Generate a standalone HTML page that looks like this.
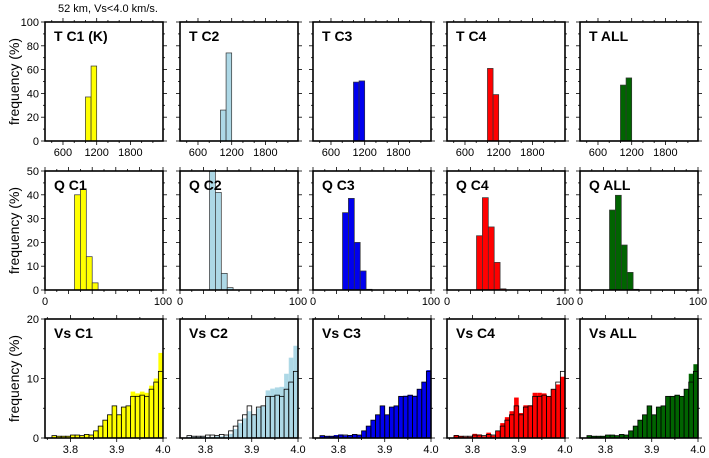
<!DOCTYPE html>
<html><head><meta charset="utf-8"><style>
body{margin:0;background:#fff;}
svg{display:block;font-family:"Liberation Sans",sans-serif;}
</style></head><body>
<svg id="c" width="709" height="458" xmlns="http://www.w3.org/2000/svg">
<text x="58" y="12" font-size="11">52 km, Vs&lt;4.0 km/s.</text>
</svg>
<script>
const clusters=["C1","C2","C3","C4","ALL"];
const colors=["#ffff00","#add8e6","#0000ee","#ff0000","#006400"];
const tBinStart=[1000,1100];
const tC1=[37,63],tC2=[26,74],tC3=[49.5,50.5],tC4=[61,39],tALL=[47,53];
const qBinStart=[25,30,35,40,45];
const qC1=[40,42.5,14,3,0],qC2=[55,41,7,1,0],qC3=[32.5,38.5,20,8,0.3],qC4=[22.8,38.8,26.5,11.6,0.5],qALL=[33.6,39.8,18.9,7.4,0.3];
const vsBinStart=[3.76,3.77,3.78,3.79,3.80,3.81,3.82,3.83,3.84,3.85,3.86,3.87,3.88,3.89,3.90,3.91,3.92,3.93,3.94,3.95,3.96,3.97,3.98,3.99];
const vsOutline=[0.4,0.3,0.3,0.3,0.5,0.5,0.4,0.6,0.5,1.2,2.0,3.0,3.9,5.4,3.9,5.2,5.4,7.0,7.0,7.2,7.0,8.2,9.4,11.2];
const vsC1=[0.4,0.3,0.3,0.3,0.5,0.5,0.4,0.6,0.5,1.2,2.0,3.0,3.9,5.4,3.9,5.2,5.4,7.8,7.5,7.8,7.6,8.8,10.0,14.3];
const vsC2=[0.2,0.2,0.2,0.2,0.2,0.2,0.3,0.3,0.3,0.7,1.5,2.5,3.3,4.5,3.8,5.0,5.3,8.0,8.3,8.5,8.6,10.8,13.5,15.5];
const vsC3=[0.4,0.3,0.3,0.5,0.6,0.4,0.5,0.6,0.5,1.2,2.0,3.0,3.9,5.4,3.9,5.2,5.4,7.0,7.1,7.2,7.1,8.2,9.4,11.4];
const vsC4=[0.5,0.3,0.2,0.2,0.7,0.6,0.3,0.9,0.4,1.2,2.5,3.5,4.5,6.8,4.2,5.5,5.5,7.6,7.6,7.5,7.0,8.2,9.0,10.3];
const vsALL=[0.4,0.3,0.3,0.3,0.5,0.5,0.4,0.6,0.5,1.2,2.0,3.0,3.9,5.4,3.9,5.2,5.4,7.0,7.0,7.2,7.0,8.2,10.8,12.4];
const tTicks=[600,1200,1800],qTicks=[0,100],vsTicks=["3.8","3.9","4.0"];
const yT=[0,20,40,60,80,100],yQ=[0,10,20,30,40,50],yV=[0,10,20];

const svg=document.getElementById('c');const NS="http://www.w3.org/2000/svg";
function mk(t,a,p){const e=document.createElementNS(NS,t);for(const k in a)e.setAttribute(k,a[k]);(p||svg).appendChild(e);return e;}
const lefts=[45,180,313,447,580],W=118,H=119;
const rows=[
 {key:"T",top:22,xmin:280,xmax:2380,xmaj:600,xmin2:200,ymax:100,ymaj:20,ymin2:10,bw:100,bins:tBinStart,data:[tC1,tC2,tC3,tC4,tALL],xt:tTicks,yt:yT,ylab:"yes"},
 {key:"Q",top:171,xmin:0,xmax:100,xmaj:20,xmin2:10,ymax:50,ymaj:10,ymin2:5,bw:5,bins:qBinStart,data:[qC1,qC2,qC3,qC4,qALL],xt:qTicks,yt:yQ},
 {key:"Vs",top:319,xmin:3.745,xmax:4.0,xmaj:0.1,xmin2:0.05,ymax:20,ymaj:10,ymin2:5,bw:0.01,bins:vsBinStart,data:[vsC1,vsC2,vsC3,vsC4,vsALL],xt:vsTicks,yt:yV}
];
rows.forEach((r,ri)=>{
 const yl=mk('text',{x:0,y:0,'font-size':14,'text-anchor':'middle',transform:`translate(19,${r.top+H/2}) rotate(-90)`});
 
 
 yl.textContent="frequency (%)";
 clusters.forEach((c,ci)=>{
  const L=lefts[ci],T=r.top,B=T+H;
  const g=mk('g',{});
  
  
  const sx=v=>L+(v-r.xmin)/(r.xmax-r.xmin)*W;
  const sy=v=>B-Math.min(v,r.ymax)/r.ymax*H;
  const cp='clip'+ri+ci;
  const cl=mk('clipPath',{id:cp},g);mk('rect',{x:L,y:T,width:W,height:H},cl);
  const bars=mk('g',{'clip-path':`url(#${cp})`},g);
  r.data[ci].forEach((v,i)=>{
   if(v<=0)return;
   const x0=sx(r.bins[i]),x1=sx(r.bins[i]+r.bw);
   const b=mk('rect',{x:x0,y:sy(v),width:x1-x0,height:B-sy(v),fill:colors[ci],stroke:r.key=="Vs"?"none":"#333",'stroke-width':0.7},bars);
   
   
  });
  if(r.key=="Vs"){
   vsOutline.forEach((v,i)=>{
    const x0=sx(r.bins[i]),x1=sx(r.bins[i]+r.bw);
    const b=mk('rect',{x:x0,y:sy(v),width:x1-x0,height:B-sy(v),fill:"none",stroke:"#000",'stroke-width':0.8},bars);
    
    
   });
  }
  // ticks
  const tk=mk('g',{stroke:'#000','stroke-width':0.8},g);
  const st=r.key=="Vs"?0.05:r.xmin2;
  const start=Math.ceil((r.xmin-1e-9)/st)*st;
  for(let v=start;v<=r.xmax+1e-9;v+=st){
   const x=sx(v);const maj=Math.abs(v/r.xmaj-Math.round(v/r.xmaj))<1e-6;const l=maj?4:2;
   mk('line',{x1:x,x2:x,y1:B,y2:B+l},tk);mk('line',{x1:x,x2:x,y1:T,y2:T-l},tk);
  }
  for(let v=0;v<=r.ymax+1e-9;v+=r.ymin2){
   const y=sy(v);const maj=Math.abs(v%r.ymaj)<1e-6;const l=maj?4:2;
   mk('line',{x1:L,x2:L-l,y1:y,y2:y},tk);mk('line',{x1:L+W,x2:L+W+l,y1:y,y2:y},tk);
  }
  mk('rect',{x:L,y:T,width:W,height:H,fill:'none',stroke:'#000','stroke-width':1.6},g);
  r.xt.forEach(t=>{
   const v=parseFloat(t);const e=mk('text',{x:sx(v),y:B+15,'font-size':11,'text-anchor':'middle'},g);
   
   
   e.textContent=t;
  });
  if(ci==0){r.yt.forEach(t=>{
   if(r.key=="Vs"&&t==20&&false)return;
   const e=mk('text',{x:L-6,y:sy(t)+4,'font-size':11,'text-anchor':'end'},g);
   
   
   e.textContent=t;
  });}
  const tt=mk('text',{x:L+9,y:T+19,'font-size':14,'font-weight':'bold'},g);
  
  
  tt.textContent=r.key+" "+c+(ri==0&&ci==0?" (K)":"");
 });
});
</script>
</body></html>
